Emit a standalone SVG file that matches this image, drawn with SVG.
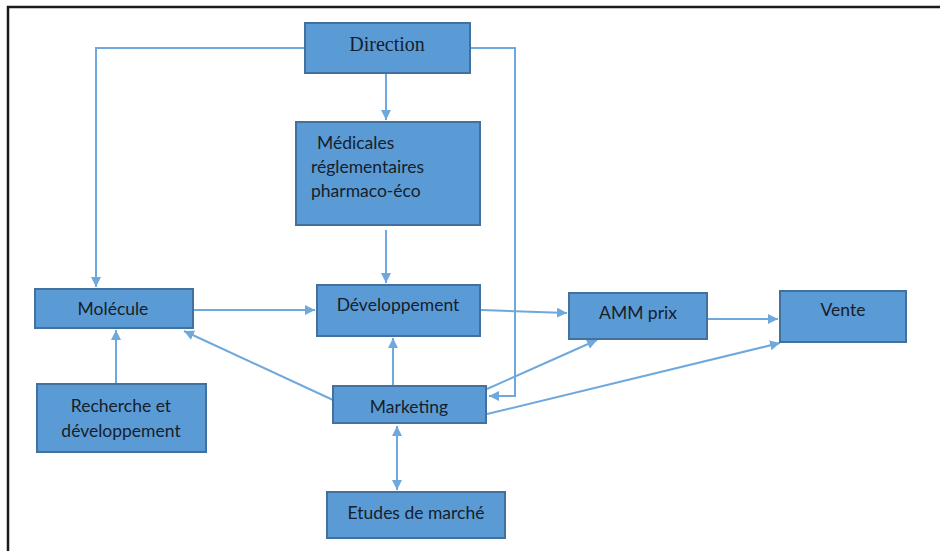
<svg xmlns="http://www.w3.org/2000/svg" width="940" height="551" viewBox="0 0 940 551">
  <style>
    .box { fill: #5B9BD5; stroke: #41719C; stroke-width: 2; }
    .lbl { font-family: Lato, "Open Sans", "Liberation Sans", sans-serif; font-size: 17.5px; fill: #16202b; text-anchor: middle; }
    .left { text-anchor: start; }
    .serif { font-family: "Liberation Serif", serif; font-size: 20px; fill: #16202b; text-anchor: middle; }
    .conn { fill: none; stroke: #6FA8DC; stroke-width: 2; }
  </style>
  <defs>
    <marker id="arrow" viewBox="0 0 10 10" refX="10" refY="5" markerWidth="5" markerHeight="5" orient="auto-start-reverse" markerUnits="strokeWidth">
      <path d="M0,0 L10,5 L0,10 Z" fill="#6FA8DC"/>
    </marker>
  </defs>

  <rect width="940" height="551" fill="#ffffff"/>
  <!-- page frame -->
  <path d="M8,551 L8,7 L940,7" fill="none" stroke="#1a1a1a" stroke-width="2.5"/>

  <g id="connectors">
    <!-- Direction -> Molécule -->
    <path class="conn" d="M305,48 L96,48 L96,287" marker-end="url(#arrow)"/>
    <!-- Direction -> Marketing -->
    <path class="conn" d="M470,48 L515,48 L515,396 L489,396" marker-end="url(#arrow)"/>
    <!-- Direction -> Médicales -->
    <path class="conn" d="M386,73 L386,120" marker-end="url(#arrow)"/>
    <!-- Médicales -> Développement -->
    <path class="conn" d="M386,230 L386,283" marker-end="url(#arrow)"/>
    <!-- Molécule -> Développement -->
    <path class="conn" d="M194,310 L315,310" marker-end="url(#arrow)"/>
    <!-- Recherche -> Molécule -->
    <path class="conn" d="M116,383 L116,330" marker-end="url(#arrow)"/>
    <!-- Marketing -> Molécule -->
    <path class="conn" d="M333,400 L184,331" marker-end="url(#arrow)"/>
    <!-- Marketing -> Développement -->
    <path class="conn" d="M393,386 L393,338" marker-end="url(#arrow)"/>
    <!-- Marketing <-> Etudes de marché -->
    <path class="conn" d="M397,426 L397,490" marker-start="url(#arrow)" marker-end="url(#arrow)"/>
    <!-- Développement -> AMM prix -->
    <path class="conn" d="M481,310 L567,313" marker-end="url(#arrow)"/>
    <!-- Marketing -> AMM prix -->
    <path class="conn" d="M487,389 L597,340" marker-end="url(#arrow)"/>
    <!-- AMM prix -> Vente -->
    <path class="conn" d="M707,319 L778,319" marker-end="url(#arrow)"/>
    <!-- Marketing -> Vente -->
    <path class="conn" d="M487,414 L780,343" marker-end="url(#arrow)"/>
  </g>

  <g id="direction">
    <rect class="box" x="305" y="23" width="165" height="50"/>
    <text class="serif" x="387" y="51">Direction</text>
  </g>

  <g id="medicales">
    <rect class="box" x="296" y="122" width="184" height="103"/>
    <text class="lbl left" x="317" y="149">Médicales</text>
    <text class="lbl left" x="311" y="173">réglementaires</text>
    <text class="lbl left" x="311" y="197">pharmaco-éco</text>
  </g>

  <g id="developpement">
    <rect class="box" x="317" y="285" width="163" height="51"/>
    <text class="lbl" x="398" y="311">Développement</text>
  </g>

  <g id="molecule">
    <rect class="box" x="35" y="289" width="158" height="39"/>
    <text class="lbl" x="113" y="315">Molécule</text>
  </g>

  <g id="recherche">
    <rect class="box" x="37" y="384" width="169" height="68"/>
    <text class="lbl" x="121" y="412">Recherche et</text>
    <text class="lbl" x="121" y="437">développement</text>
  </g>

  <g id="marketing">
    <rect class="box" x="333" y="386" width="153" height="37"/>
    <text class="lbl" x="409" y="413">Marketing</text>
  </g>

  <g id="etudes">
    <rect class="box" x="327" y="492" width="178" height="46"/>
    <text class="lbl" x="416" y="519">Etudes de marché</text>
  </g>

  <g id="amm">
    <rect class="box" x="569" y="293" width="138" height="46"/>
    <text class="lbl" x="638" y="319">AMM prix</text>
  </g>

  <g id="vente">
    <rect class="box" x="780" y="291" width="126" height="51"/>
    <text class="lbl" x="843" y="316">Vente</text>
  </g>
</svg>
